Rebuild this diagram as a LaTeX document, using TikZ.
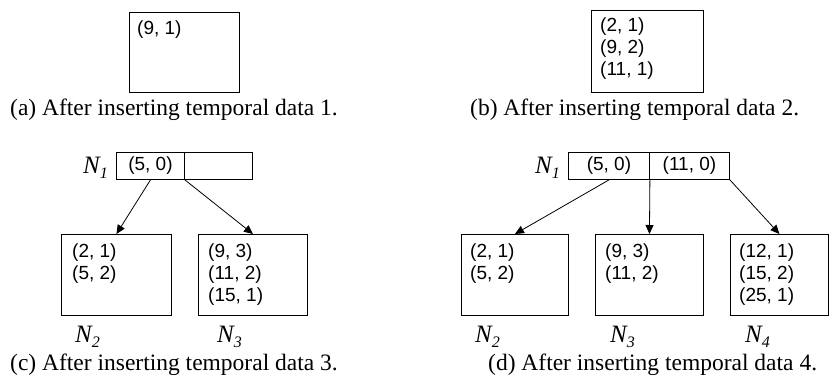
\documentclass[tikz,border=0pt]{standalone}
\usepackage{fontspec}
\setmainfont{Liberation Serif}
\newfontfamily\arialf{Liberation Sans}
\usetikzlibrary{arrows.meta}
\tikzset{
  box/.style={draw, line width=0.9pt, inner sep=0pt, anchor=north west},
  entries/.style={font=\arialf\fontsize{19}{22}\selectfont, align=left, inner sep=0pt, anchor=north west},
  cell/.style={draw, line width=0.9pt, inner sep=0pt, anchor=north west, minimum height=27pt, font=\arialf\fontsize{19}{22}\selectfont},
  captext/.style={font=\fontsize{23.5}{28}\selectfont, inner sep=0pt, anchor=base west},
  nlab/.style={font=\fontsize{25}{30}\selectfont\itshape, inner sep=0pt, anchor=base west},
  arr/.style={line width=0.8pt, -{Triangle[length=9pt,width=8pt]}}
}
\newcommand{\nsub}[1]{N\raisebox{-0.22em}{\fontsize{16}{16}\selectfont\itshape #1}}
\begin{document}
\begin{tikzpicture}[x=1pt,y=-1pt]
\useasboundingbox (0,0) rectangle (829,381);
% (a)
\node[box, minimum width=110pt, minimum height=80pt] (A) at (129,12) {};
\node[entries] (Atext) at (137,21) {(9, 1)};
\node[captext] (capa) at (10,115) {(a) After inserting temporal data 1.};
% (b)
\node[box, minimum width=112pt, minimum height=82pt] (B) at (591,10) {};
\node[entries] (Btext) at (600,18) {(2, 1)\\(9, 2)\\(11, 1)};
\node[captext] (capb) at (470,115) {(b) After inserting temporal data 2.};
% (c)
\node[cell, minimum width=68pt] (c1l) at (116,152) {(5, 0)};
\node[cell, minimum width=68pt] (c1r) at (184,152) {};
\node[nlab] (cN1) at (83,173) {\nsub{1}};
\node[box, minimum width=110pt, minimum height=81pt] (c2) at (61,234) {};
\node[box, minimum width=109pt, minimum height=81pt] (c3) at (198,234) {};
\node[entries] (c2t) at (72,244) {(2, 1)\\(5, 2)};
\node[entries] (c3t) at (208,244) {(9, 3)\\(11, 2)\\(15, 1)};
\node[nlab] (cN2) at (75,342) {\nsub{2}};
\node[nlab] (cN3) at (217,342) {\nsub{3}};
\draw[arr] (c1l.south) -- (c2.north);
\draw[arr] (c1l.south east) -- (c3.north);
\node[captext] (capc) at (10,370) {(c) After inserting temporal data 3.};
% (d)
\node[cell, minimum width=81pt] (d1l) at (568,152) {(5, 0)};
\node[cell, minimum width=80pt] (d1r) at (649,152) {(11, 0)};
\node[nlab] (dN1) at (535,173) {\nsub{1}};
\node[box, minimum width=107pt, minimum height=81pt] (d2) at (461,234) {};
\node[box, minimum width=108pt, minimum height=81pt] (d3) at (595,234) {};
\node[box, minimum width=98pt, minimum height=81pt] (d4) at (730,234) {};
\node[entries] (d2t) at (470,244) {(2, 1)\\(5, 2)};
\node[entries] (d3t) at (605,244) {(9, 3)\\(11, 2)};
\node[entries] (d4t) at (739,244) {(12, 1)\\(15, 2)\\(25, 1)};
\node[nlab] (dN2) at (475,342) {\nsub{2}};
\node[nlab] (dN3) at (610,342) {\nsub{3}};
\node[nlab] (dN4) at (745,342) {\nsub{4}};
\draw[arr] (d1l.south) -- (d2.north);
\draw[arr] (d1l.south east) -- (d3.north);
\draw[arr] (d1r.south east) -- (d4.north);
\node[captext] (capd) at (488,370) {(d) After inserting temporal data 4.};
\end{tikzpicture}
\end{document}
